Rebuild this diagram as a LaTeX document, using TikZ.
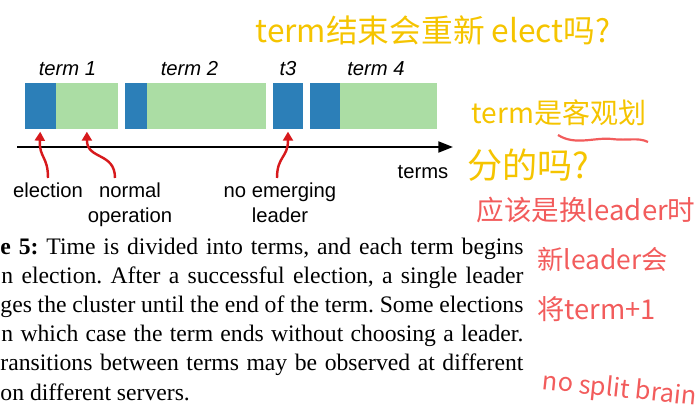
\documentclass[tikz,border=0pt]{standalone}
\usepackage{fontspec}
\setmainfont{Liberation Serif}
\setsansfont{Liberation Sans}
\newfontfamily\hand{Noto Sans CJK SC}
\usetikzlibrary{arrows.meta,calc,positioning}
\definecolor{elecblue}{HTML}{2C7FB8}
\definecolor{normgreen}{HTML}{ABDDA4}
\definecolor{pinred}{HTML}{D7191C}
\definecolor{penyellow}{HTML}{F5C400}
\definecolor{penred}{HTML}{F25C5C}
\newcommand{\pensize}[1]{\fontsize{#1}{#1}\selectfont}
\tikzset{elecbox/.style={fill=elecblue, minimum height=18.74pt, inner sep=0pt, outer sep=0pt},
  normbox/.style={fill=normgreen, minimum height=18.74pt, inner sep=0pt, outer sep=0pt},
  lbl/.style={font=\sffamily\fontsize{8.3}{10.25}\selectfont, inner sep=0pt, align=center},
  termlbl/.style={font=\sffamily\itshape\fontsize{8.3}{10.25}\selectfont, inner sep=0pt},
  pin/.style={pinred, line width=1pt, -{Triangle[length=3.7pt, width=4.1pt]}, shorten >=1.1pt},
  axis/.style={line width=0.85pt, -{Triangle[length=6pt, width=4.5pt]}},
  caprow/.style={anchor=base west, inner sep=0pt, font=\fontsize{9.7}{11.9}\selectfont\frenchspacing},
  yellowpen/.style={text=penyellow, anchor=west, inner sep=0pt, font=\hand},
  redpen/.style={yellowpen, text=penred}}

\begin{document}
\begin{tikzpicture}[x=0.41pt, y=-0.41pt]
  \useasboundingbox (0,0) rectangle (699,417);
  % terms on the time line
  \node[elecbox, minimum width=12.59pt] (e1) at (40.35,106.15) {};
  \node[normbox, minimum width=25.54pt, right=0pt of e1] (n1) {};
  \node[elecbox, minimum width=9.02pt, right=2.87pt of n1] (e2) {};
  \node[normbox, minimum width=48.79pt, right=0pt of e2] (n2) {};
  \node[elecbox, minimum width=12.3pt, right=2.87pt of n2] (e3) {};
  \node[elecbox, minimum width=12.3pt, right=2.87pt of e3] (e4) {};
  \node[normbox, minimum width=39.77pt, right=0pt of e4] (n4) {};
  \node[termlbl, anchor=base] (t1) at (67.5,76) {term 1};
  \node[termlbl, anchor=base] (t2) at (189.5,76) {term 2};
  \node[termlbl, anchor=base] (t3) at (288,76) {t3};
  \node[termlbl, anchor=base] (t4) at (376,76) {term 4};
  % time axis
  \coordinate (ax0) at (17,147);
  \coordinate (ax1) at (453,147);
  \draw[axis] (ax0) -- (ax1);
  \node[lbl, anchor=base] (terms) at (423,179) {terms};
  % what the phases are
  \node[lbl, anchor=base] (elec) at (48,198) {election};
  \node[lbl, anchor=base] (norm) at (130,223) {normal\\operation};
  \node[lbl, anchor=base] (none) at (280,223) {no emerging\\leader};
  \coordinate (pE) at (48,178);
  \coordinate (pN) at (115,178);
  \coordinate (pX) at (277,178);
  \draw[pin] (pE) .. controls (48,156) and (39,158) .. (e1.south);
  \draw[pin] (pN) .. controls (115,152) and (87,160) .. (n1.south);
  \draw[pin] (pX) .. controls (277,156) and (288,158) .. (e3.south);
  % caption, cut off at the left
  \node[caprow] (c1) at (0,255) {\makebox[214.4pt][s]{\textbf{e 5:} Time is divided into terms, and each term begins}};
  \node[caprow] (c2) at (1,284) {\makebox[214pt][s]{n election. After a successful election, a single leader}};
  \node[caprow] (c3) at (0,313) {\makebox[214.4pt][s]{ges the cluster until the end of the term. Some elections}};
  \node[caprow] (c4) at (1,342) {\makebox[214pt][s]{n which case the term ends without choosing a leader.}};
  \node[caprow] (c5) at (0,371) {\makebox[214.4pt][s]{ransitions between terms may be observed at different}};
  \node[caprow] (c6) at (0,400) {on different servers.};
  % handwritten notes
  \node[yellowpen] (q1) at (255,30) {\pensize{13}term结束会重新 elect吗?};
  \node[yellowpen] (q2) at (471,113) {\pensize{11.5}term是客观划};
  \node[yellowpen] (q3) at (467,165) {\pensize{14.4}分的吗?};
  \draw[penred, line width=0.9pt] (558,135) .. controls (575,146) and (595,137) .. (612,139) .. controls (628,141) and (638,137) .. (648,142);
  \node[redpen] (r1) at (476,210) {\pensize{11.3}应该是换leader时};
  \node[redpen] (r2) at (537,259) {\pensize{10.8}新leader会};
  \node[redpen] (r3) at (537,309) {\pensize{11.2}将term+1};
  \node[redpen, rotate=-6] (r4) at (542,382) {\pensize{10.4}no split brain};
\end{tikzpicture}
\end{document}
